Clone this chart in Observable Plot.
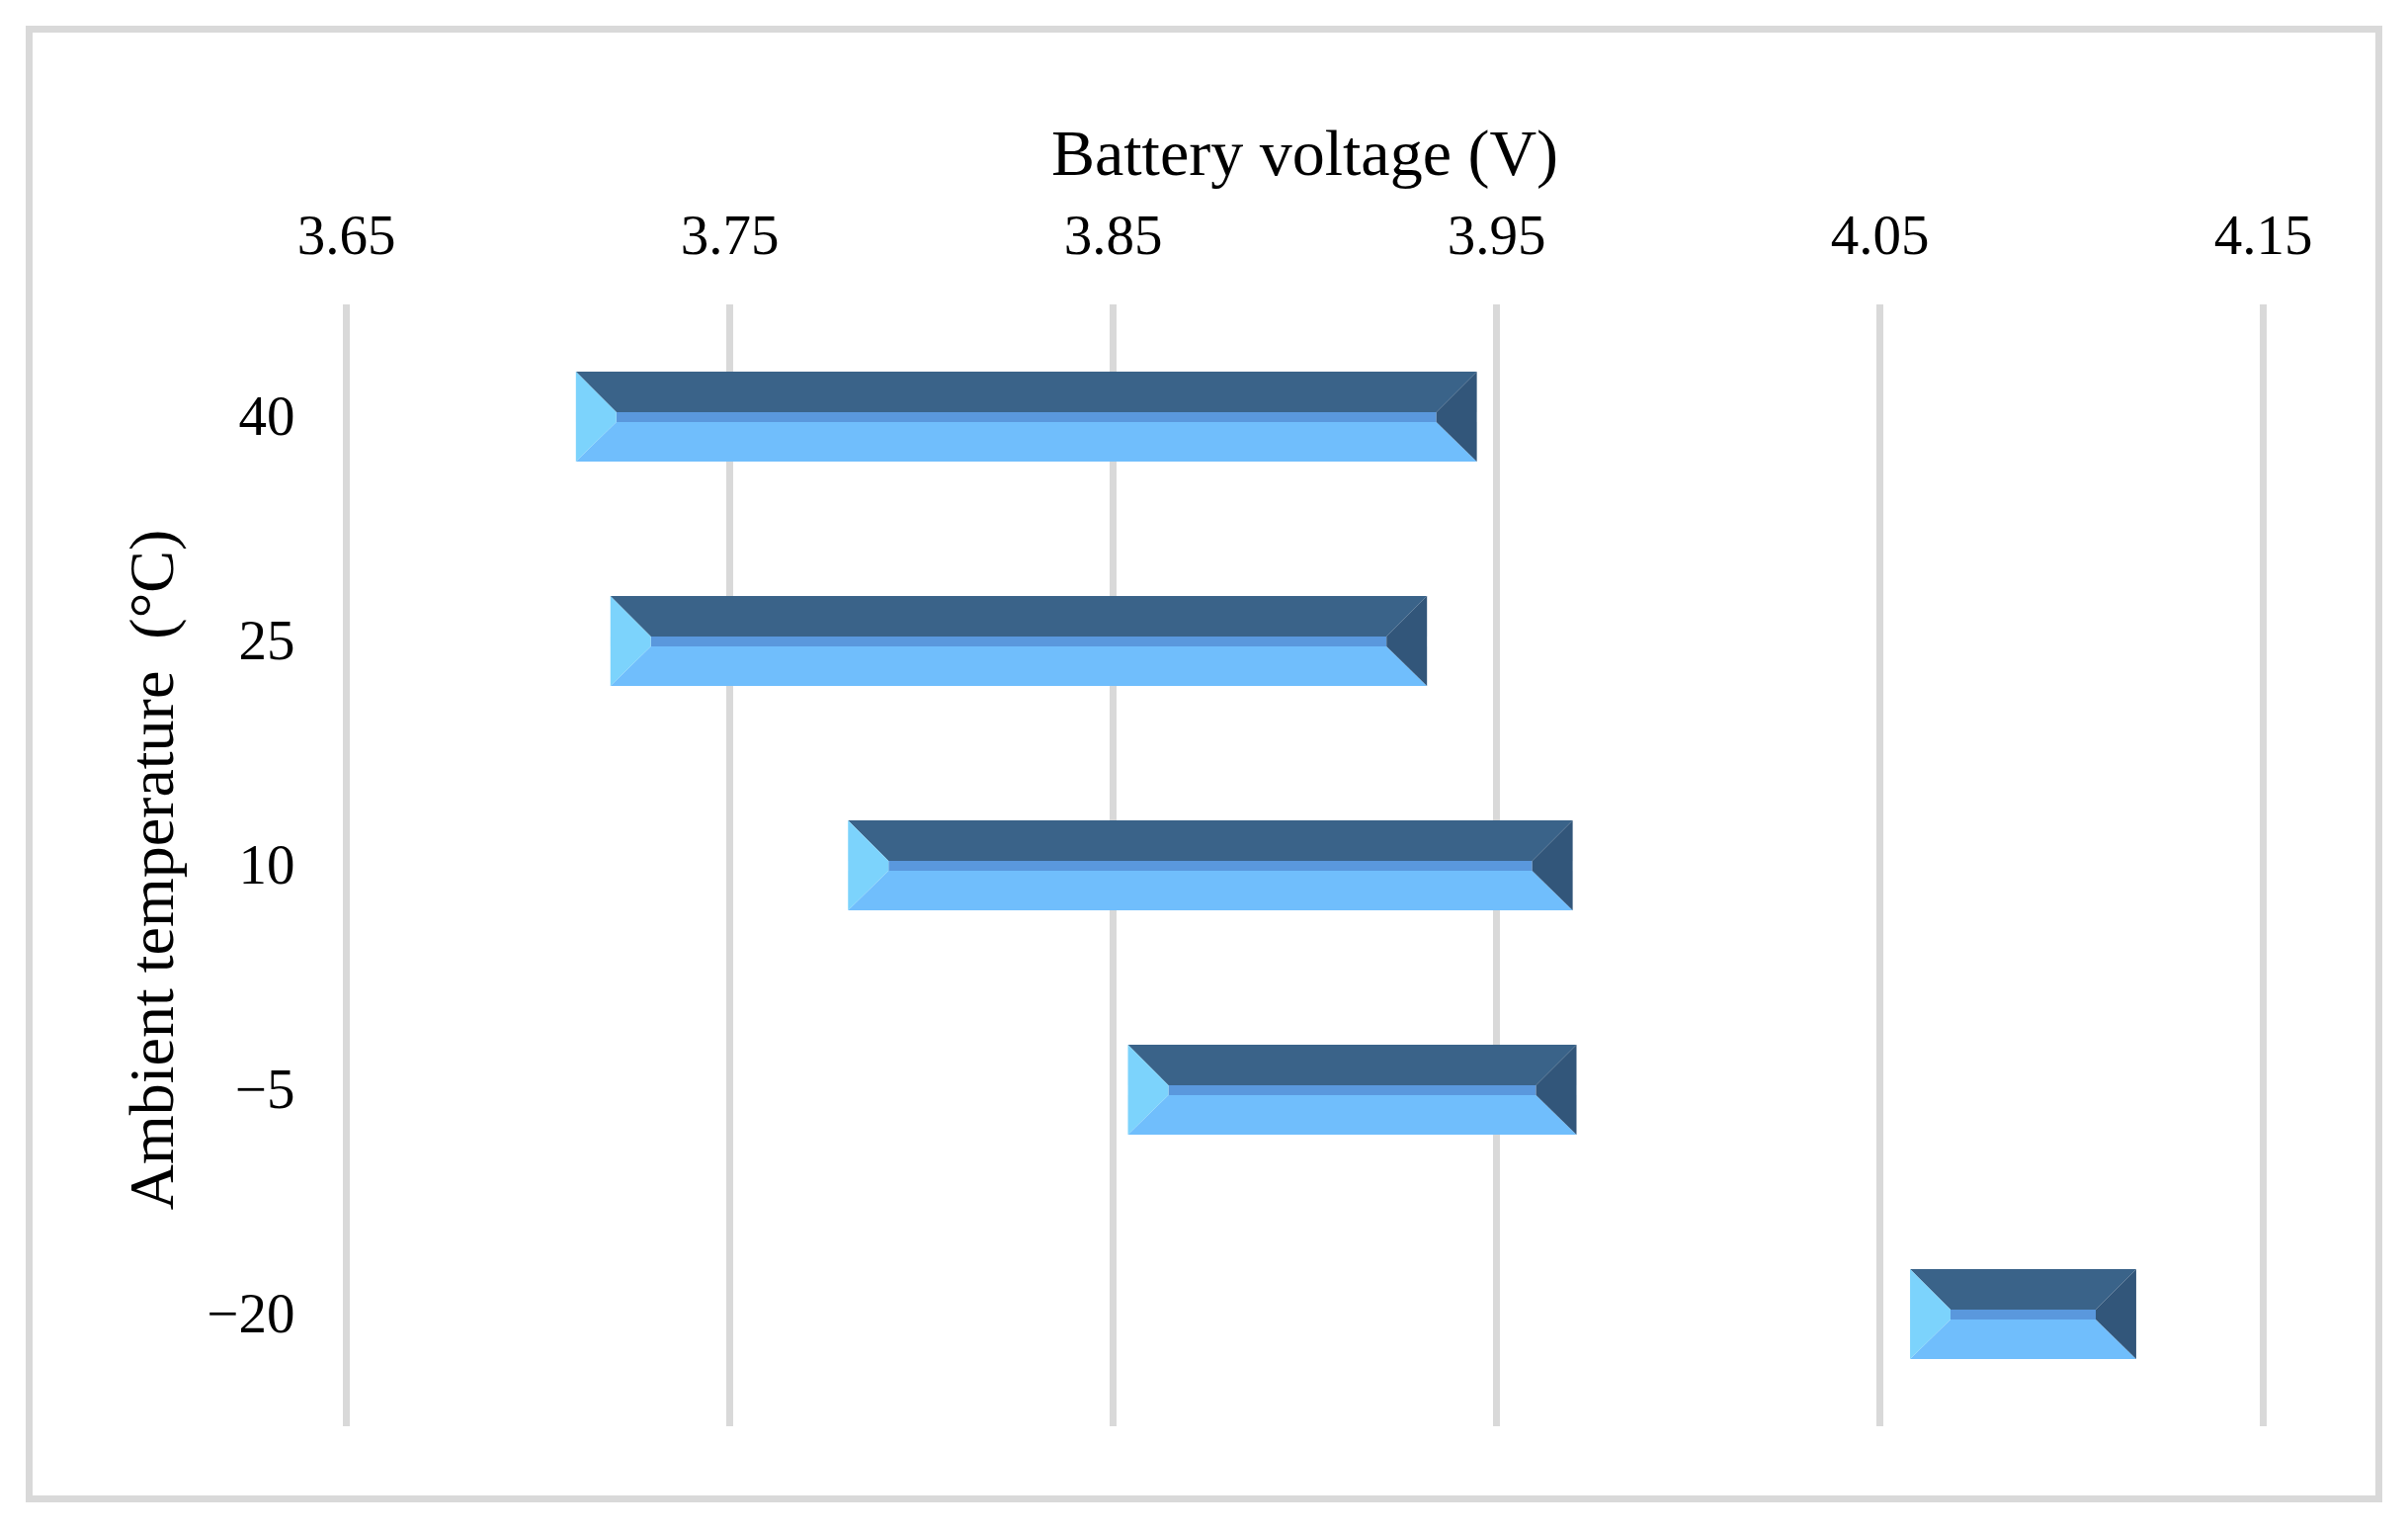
<!DOCTYPE html>
<html>
<head>
<meta charset="utf-8">
<script src="https://cdn.jsdelivr.net/npm/d3@7"></script>
<script src="https://cdn.jsdelivr.net/npm/@observablehq/plot@0.6"></script>
<style>
  html, body { margin: 0; padding: 0; background: #fff; }
  #wrap { position: relative; width: 2437px; height: 1550px; }
  #border { position: absolute; left: 26px; top: 26px; width: 2385px; height: 1494px;
            box-sizing: border-box; border: 7px solid #d9d9d9; pointer-events: none; }
</style>
</head>
<body>
<div id="wrap"><div id="border"></div></div>
<script>
// Data
const temps = [40, 25, 10, -5, -20];            // ambient temperature (°C)
const vMin  = [3.710, 3.719, 3.781, 3.854, 4.058]; // battery voltage range start (V)
const vMax  = [3.945, 3.932, 3.970, 3.971, 4.117]; // battery voltage range end (V)
const xTicks = [3.65, 3.75, 3.85, 3.95, 4.05, 4.15];
const xLabel = "Battery voltage (V)";
const yLabel = "Ambient temperature\u00a0 (°C)";

const rows = temps.map((t, i) => ({t, lo: vMin[i], hi: vMax[i]}));

const C = {top: "#3a6389", mid: "#5a98dd", bot: "#70befc", left: "#7cd3fc", right: "#32567a"};

function bevel(index, scales, values, dimensions, context, next) {
  const g = next(index, scales, values, dimensions, context);
  const out = d3.create("svg:g");
  if (g.getAttribute("transform")) out.attr("transform", g.getAttribute("transform"));
  for (const r of g.querySelectorAll("rect")) {
    const x0 = +r.getAttribute("x"), y0 = +r.getAttribute("y");
    const w = +r.getAttribute("width"), h = +r.getAttribute("height");
    const x1 = x0 + w, y1 = y0 + h;
    const bt = h * 0.45, bm = h * 0.56;  // top bevel end, middle stripe end
    const d = Math.min(h * 0.45, w / 2);
    const poly = (pts, fill) => out.append("polygon")
      .attr("points", pts.map(p => p.join(",")).join(" ")).attr("fill", fill);
    poly([[x0, y0], [x1, y0], [x1 - d, y0 + bt], [x0 + d, y0 + bt]], C.top);
    poly([[x0 + d, y0 + bt], [x1 - d, y0 + bt], [x1 - d, y0 + bm], [x0 + d, y0 + bm]], C.mid);
    poly([[x0 + d, y0 + bm], [x1 - d, y0 + bm], [x1, y1], [x0, y1]], C.bot);
    poly([[x0, y0], [x0 + d, y0 + bt], [x0 + d, y0 + bm], [x0, y1]], C.left);
    poly([[x1, y0], [x1 - d, y0 + bt], [x1 - d, y0 + bm], [x1, y1]], C.right);
  }
  return out.node();
}

const fmtT = d => d < 0 ? "\u2212" + Math.abs(d) : String(d);

const chart = Plot.plot({
  width: 2437,
  height: 1550,
  marginLeft: 350,
  marginRight: 147,
  marginTop: 308,
  marginBottom: 107,
  style: {fontFamily: "'Liberation Serif', 'Times New Roman', serif", color: "#000", background: "transparent"},
  x: {domain: [3.65, 4.15]},
  y: {type: "band", domain: temps, paddingInner: 0.6, paddingOuter: 0.3},
  marks: [
    Plot.gridX(xTicks, {stroke: "#d9d9d9", strokeWidth: 7, strokeOpacity: 1}),
    Plot.axisX(xTicks, {anchor: "top", tickSize: 0, tickPadding: 52, fontSize: 57,
                        tickFormat: d3.format(".2f"), label: null}),
    Plot.axisY({anchor: "left", tickSize: 0, tickPadding: 52, fontSize: 57,
                tickFormat: fmtT, label: null}),
    Plot.barX(rows, {x1: "lo", x2: "hi", y: "t", fill: C.bot, render: bevel}),
    Plot.text([xLabel], {frameAnchor: "top", lineAnchor: "middle", textAnchor: "middle",
                         dy: -153, fontSize: 66, fill: "#000"}),
    Plot.text([yLabel], {frameAnchor: "left", lineAnchor: "middle", textAnchor: "middle",
                         dx: -196, dy: 4, rotate: -90, fontSize: 64, fill: "#000"})
  ]
});
chart.style.position = "absolute";
chart.style.left = "0px";
chart.style.top = "0px";
document.getElementById("wrap").prepend(chart);
</script>
</body>
</html>
